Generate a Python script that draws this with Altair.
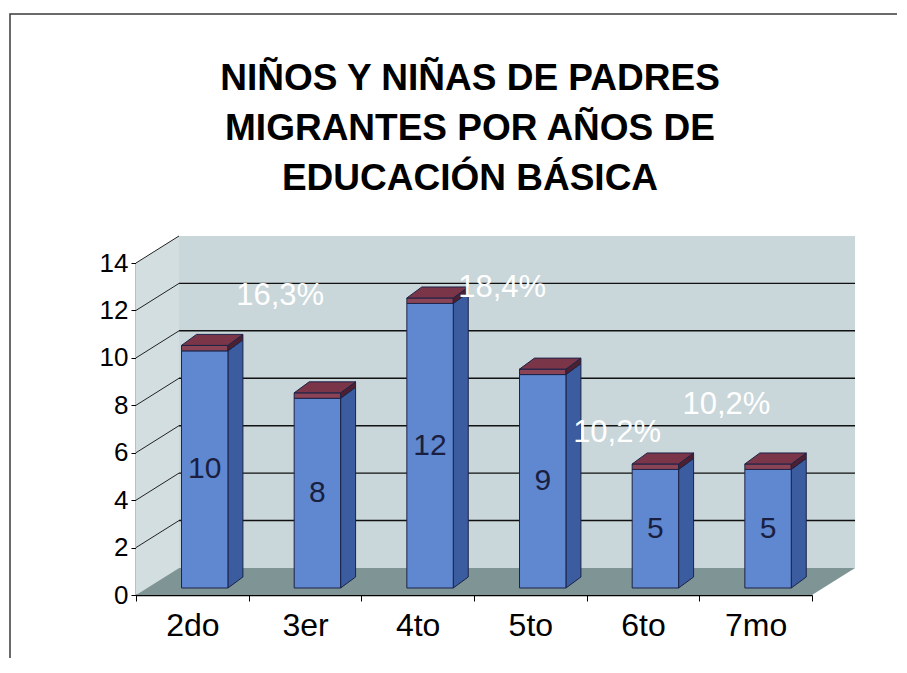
import altair as alt
import pandas as pd

# ---------------- data ----------------
categories = ["2do", "3er", "4to", "5to", "6to", "7mo"]
values = [10, 8, 12, 9, 5, 5]
pct_labels = ["16,3%", "18,4%", "10,2%", "10,2%"]
pct_x = [1.28, 3.25, 4.27, 5.24]
pct_y = [12.6, 12.95, 6.84, 8.02]
y_ticks = [0, 2, 4, 6, 8, 10, 12, 14]
title_lines = ["NIÑOS Y NIÑAS DE PADRES", "MIGRANTES POR AÑOS DE", "EDUCACIÓN BÁSICA"]

# ---------------- geometry (3-D look) ----------------
W, H = 676, 332
NCAT = len(categories)
YMAX = 14
DX, DY = 0.382, 1.14      # depth of the box (data units)
BL, BR = 0.404, 0.816     # bar front face inside each band
BASE = 0.295              # bars stand mid-depth
SX, SY = 0.133, 0.464     # bar depth
CAP = 0.23                # maroon cap height

FONT = "Liberation Sans"

xscale = alt.Scale(domain=[0, NCAT], nice=False, zero=False)
yscale = alt.Scale(domain=[0, YMAX], nice=False, zero=False)
label_arr = "[" + ",".join("'%s'" % c for c in categories) + ",'']"
xaxis = alt.Axis(values=list(range(NCAT + 1)), labelExpr=label_arr + "[datum.value]",
                 labelOffset=W / NCAT / 2, labelFlush=False, labelOverlap=False,
                 labelFontSize=32, labelFont=FONT, labelColor="black", labelPadding=9,
                 tickSize=6, tickColor="black", domainColor="black", domainWidth=1.5,
                 grid=False, title=None)
yaxis = alt.Axis(values=y_ticks, labelFontSize=26, labelFont=FONT, labelColor="black",
                 labelPadding=3, tickSize=5, tickColor="black", domainColor="black",
                 domainWidth=1.5, grid=False, title=None, labelFlush=False, labelOverlap=False)


def X(f):
    return alt.X(f, type="quantitative", scale=xscale, axis=xaxis)


def Y(f):
    return alt.Y(f, type="quantitative", scale=yscale, axis=yaxis)


# ---------------- tables ----------------
left_wall = pd.DataFrame({"x": [0, DX], "y": [0, DY], "y2": [YMAX, YMAX + DY]})
floor = pd.DataFrame({"y": [0, DY], "x": [0, DX], "x2": [NCAT, NCAT + DX]})
back = pd.DataFrame({"x": [DX], "x2": [NCAT + DX], "y": [DY], "y2": [YMAX + DY]})
back_grid = pd.DataFrame({"k": y_ticks[1:-1]})
back_grid["x"] = DX
back_grid["x2"] = NCAT + DX
back_grid["y"] = back_grid["k"] + DY
diag = pd.DataFrame({"k": y_ticks[1:]})
diag["x"] = 0.0
diag["x2"] = DX
diag["y"] = diag["k"]
diag["y2"] = diag["k"] + DY

bars = pd.DataFrame({"cat": categories, "v": values})
bars["i"] = range(NCAT)
bars["xl"] = bars["i"] + BL
bars["xr"] = bars["i"] + BR
bars["y0"] = BASE
bars["y1"] = BASE + bars["v"]
bars["y2c"] = BASE + bars["v"] + CAP
bars["xm"] = bars["i"] + (BL + BR) / 2
bars["ym"] = BASE + bars["v"] / 2

side_rows, cside_rows, ctop_rows = [], [], []
for rec in bars.to_dict("records"):
    c = rec["cat"]
    side_rows.append({"cat": c, "x": rec["xr"], "y": rec["y0"], "y2": rec["y1"]})
    side_rows.append({"cat": c, "x": rec["xr"] + SX, "y": rec["y0"] + SY, "y2": rec["y1"] + SY})
    cside_rows.append({"cat": c, "x": rec["xr"], "y": rec["y1"], "y2": rec["y2c"]})
    cside_rows.append({"cat": c, "x": rec["xr"] + SX, "y": rec["y1"] + SY, "y2": rec["y2c"] + SY})
    ctop_rows.append({"cat": c, "y": rec["y2c"], "x": rec["xl"], "x2": rec["xr"]})
    ctop_rows.append({"cat": c, "y": rec["y2c"] + SY, "x": rec["xl"] + SX, "x2": rec["xr"] + SX})
side = pd.DataFrame(side_rows)
cside = pd.DataFrame(cside_rows)
ctop = pd.DataFrame(ctop_rows)

pct = pd.DataFrame({"t": pct_labels, "x": pct_x, "y": pct_y})

OUT = "#1c2348"
one = pd.DataFrame({"a": [0]})

# ---------------- layers ----------------
border = alt.Chart(one).mark_rect(
    fill=None, stroke="#3a3a3a", strokeWidth=1.5).encode(
    x=alt.value(-126), x2=alt.value(W + 300), y=alt.value(-249), y2=alt.value(H + 300))

title = alt.Chart(one).mark_text(
    text=title_lines, font=FONT, fontSize=37, fontWeight="bold", color="black",
    align="center", baseline="alphabetic", lineHeight=50).encode(
    x=alt.value(334), y=alt.value(-173))

lw = alt.Chart(left_wall).mark_area(color="#d3dee1", orient="vertical").encode(
    x=X("x"), y=Y("y"), y2="y2")
bw = alt.Chart(back).mark_rect(color="#c9d6da").encode(x=X("x"), x2="x2", y=Y("y"), y2="y2")
fl = alt.Chart(floor).mark_area(color="#7f9595", orient="horizontal").encode(
    y=Y("y"), x=X("x"), x2="x2")
gl = alt.Chart(back_grid).mark_rule(color="#111111", strokeWidth=1.4).encode(
    x=X("x"), x2="x2", y=Y("y"))
dg = alt.Chart(diag).mark_rule(color="#222222", strokeWidth=1).encode(
    x=X("x"), x2="x2", y=Y("y"), y2="y2")

sd = alt.Chart(side).mark_area(color="#3b5c9e", stroke=OUT, strokeWidth=1, orient="vertical").encode(
    x=X("x"), y=Y("y"), y2="y2", detail="cat:N")
fr = alt.Chart(bars).mark_rect(color="#6088d0", stroke=OUT, strokeWidth=1).encode(
    x=X("xl"), x2="xr", y=Y("y0"), y2="y1")
cf = alt.Chart(bars).mark_rect(color="#8b4456", stroke=OUT, strokeWidth=1).encode(
    x=X("xl"), x2="xr", y=Y("y1"), y2="y2c")
cs = alt.Chart(cside).mark_area(color="#4e1f2e", stroke=OUT, strokeWidth=1, orient="vertical").encode(
    x=X("x"), y=Y("y"), y2="y2", detail="cat:N")
ct = alt.Chart(ctop).mark_area(color="#7a3648", stroke=OUT, strokeWidth=1, orient="horizontal").encode(
    y=Y("y"), x=X("x"), x2="x2", detail="cat:N")

vl = alt.Chart(bars).mark_text(font=FONT, fontSize=30, color="#1a1f40").encode(
    x=X("xm"), y=Y("ym"), text="v:Q")
pl = alt.Chart(pct).mark_text(font=FONT, fontSize=31, color="white").encode(
    x=X("x"), y=Y("y"), text="t:N")

chart = alt.layer(border, title, lw, bw, fl, gl, dg, sd, fr, cf, cs, ct, vl, pl).properties(
    width=W, height=H,
    autosize=alt.AutoSizeParams(type="none"),
    padding={"left": 128, "top": 255, "right": 85, "bottom": 63},
).configure_view(stroke=None).configure(background="white")

chart.save("out.html", embed_options={"renderer": "svg", "actions": False})
